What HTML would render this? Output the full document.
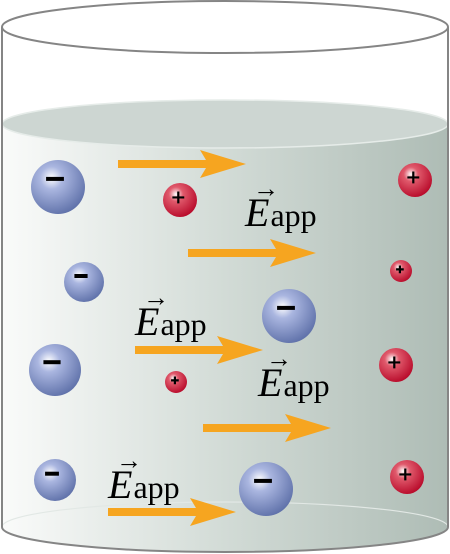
<!DOCTYPE html>
<html><head><meta charset="utf-8"><style>
body{margin:0;background:#fff}
svg{display:block}
.E{font-family:"Liberation Serif",serif;font-style:italic;font-size:40px}
.s{font-family:"Liberation Serif",serif;font-size:32px}
.ar{font-family:"Liberation Serif",serif;font-size:26px}
</style></head><body>
<svg width="450" height="554" viewBox="0 0 450 554">
<defs>
<linearGradient id="liq" x1="0" x2="1"><stop offset="0" stop-color="#fafbfa"/><stop offset="0.5" stop-color="#d2dbd6"/><stop offset="1" stop-color="#aebcb5"/></linearGradient>
<radialGradient id="neg" cx="0.38" cy="0.33" r="0.7"><stop offset="0" stop-color="#ffffff"/><stop offset="0.3" stop-color="#aab6e0"/><stop offset="1" stop-color="#6072aa"/></radialGradient>
<radialGradient id="pos" cx="0.38" cy="0.33" r="0.7"><stop offset="0" stop-color="#ffffff"/><stop offset="0.3" stop-color="#e05a6c"/><stop offset="1" stop-color="#b80a2a"/></radialGradient>
</defs>
<path d="M2 125 A223 24 0 0 1 448 125 L448 527 A223 25 0 0 1 2 527 Z" fill="url(#liq)"/>
<ellipse cx="225" cy="124" rx="223" ry="24" fill="#cdd6d2" stroke="#e6ece9" stroke-width="1.5"/>
<path d="M2 527 A223 25 0 0 1 448 527" fill="none" stroke="#e2e8e5" stroke-width="1.2"/>
<path d="M2 27 L2 527 A223 25 0 0 0 448 527 L448 27" fill="none" stroke="#858585" stroke-width="2"/>
<ellipse cx="225" cy="27" rx="223" ry="26" fill="#fff" stroke="#858585" stroke-width="2"/>
<g id="arrows"></g>
<g id="ions"></g>
<g id="labels"></g>
</svg>
<script>
const NS="http://www.w3.org/2000/svg";
const negIons=[[58,187,27],[84,282,20],[55,370,26],[289,316,27],[55,480,21],[266,489,27]];
const posIons=[[180,200,17],[415,180,17],[401,271,11],[396,365,17],[176,382,11],[407,477,17]];
const arrowStarts=[[118,164],[188,253],[135,350],[203,428],[108,512]];
const labelPos=[[245,226],[135,335],[258,396],[108,498]];
function mk(t,a,p){const e=document.createElementNS(NS,t);for(const k in a)e.setAttribute(k,a[k]);p.appendChild(e);return e;}
const ag=document.getElementById('arrows');
arrowStarts.forEach(([x,y])=>{
 const L=128;
 const a=mk('path',{d:`M${x} ${y-4}L${x+L-40} ${y-4}L${x+L-46} ${y-14}L${x+L} ${y}L${x+L-46} ${y+14}L${x+L-40} ${y+4}L${x} ${y+4}Z`,fill:'#f6a520'},ag);
 
 
});
const ig=document.getElementById('ions');
negIons.forEach(([x,y,r])=>{
 const c=mk('circle',{cx:x,cy:y,r:r,fill:'url(#neg)'},ig);
 
 
 mk('rect',{x:x-r*0.33-3,y:y-r*0.3-2,width:r*0.66,height:4,fill:'#000'},ig);
});
posIons.forEach(([x,y,r])=>{
 const c=mk('circle',{cx:x,cy:y,r:r,fill:'url(#pos)'},ig);
 
 
 const s=r*0.35,cx=x-r*0.1,cy=y-r*0.15;
 mk('path',{d:`M${cx-s} ${cy}H${cx+s}M${cx} ${cy-s}V${cy+s}`,stroke:'#000','stroke-width':2.2},ig);
});
const lg=document.getElementById('labels');
labelPos.forEach(([x,y])=>{
 const g=mk('g',{},lg);
 
 
 const t=mk('text',{x:x,y:y},g);
 const e=mk('tspan',{class:'E'},t);e.textContent='E';
 const s=mk('tspan',{class:'s',dx:'1'},t);s.textContent='app';
 const ar=mk('text',{x:x+8,y:y-29,class:'ar'},g);ar.textContent='→';
});
</script>
</body></html>
